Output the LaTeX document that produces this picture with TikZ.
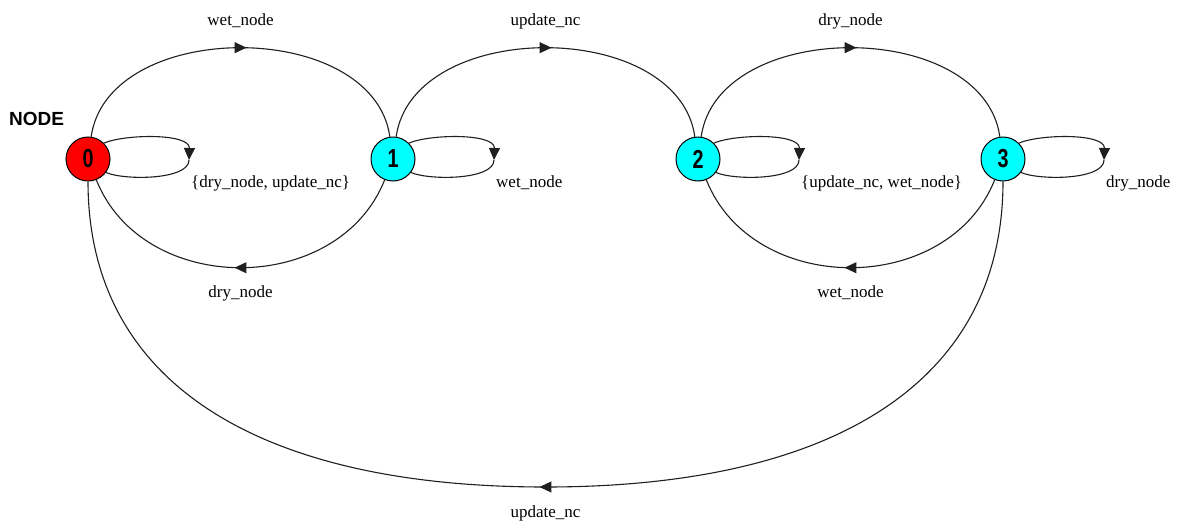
\documentclass[tikz,border=0pt]{standalone}
\usepackage{fontspec}
\usepackage{graphicx}
\setmainfont{Liberation Serif}
\newfontfamily\headfont{Liberation Sans}
\usetikzlibrary{arrows.meta,decorations.markings,calc}
\definecolor{startred}{RGB}{255,0,0}
\definecolor{stateaqua}{RGB}{0,255,255}

\begin{document}
\begin{tikzpicture}[x=1pt,y=-1pt,
  stnode/.style={circle,draw=black,line width=1pt,minimum size=44pt,inner sep=0pt,
    font=\headfont\bfseries\fontsize{26}{26}\selectfont},
  conn/.style={draw=black!88,line width=1.1pt},
  midarrow/.style={postaction={decorate},decoration={markings,
    mark=at position 0.5 with {\arrow[xshift=6pt]{Triangle[length=12pt,width=11pt]}}}},
  looptip/.style={-{Triangle[length=12pt,width=11pt]}},
  lbl/.style={font=\fontsize{17}{17}\selectfont,inner sep=0pt,anchor=base},
  looplbl/.style={lbl,anchor=base west}]

\useasboundingbox (0,0) rectangle (1179,525);

% title
\node[font=\headfont\bfseries\fontsize{19}{19}\selectfont,inner sep=0pt,anchor=base west] (title) at (9,125) {NODE};

% states
\node[stnode,fill=startred]  (n0) at (88,159)  {\scalebox{0.76}[1]{0}};
\node[stnode,fill=stateaqua] (n1) at (393,159) {\scalebox{0.76}[1]{1}};
\node[stnode,fill=stateaqua] (n2) at (698,159) {\scalebox{0.76}[1]{2}};
\node[stnode,fill=stateaqua] (n3) at (1003,159) {\scalebox{0.76}[1]{3}};

% forward arcs over the top
\draw[conn,midarrow] (n0) .. controls +(20,-141) and +(-20,-141) .. (n1);
\draw[conn,midarrow] (n1) .. controls +(20,-141) and +(-20,-141) .. (n2);
\draw[conn,midarrow] (n2) .. controls +(20,-141) and +(-20,-141) .. (n3);

% backward arcs underneath
\draw[conn,midarrow] (n1) .. controls +(-55,138) and +(55,138) .. (n0);
\draw[conn,midarrow] (n3) .. controls +(-55,138) and +(55,138) .. (n2);

% long return arc from 3 to 0
\coordinate (low) at ($(n0)!0.5!(n3)+(0,328)$);
\draw[conn,midarrow] (n3) .. controls +(0,222) and +(290,0) .. (low)
                          .. controls +(-290,0) and +(0,222) .. (n0);

% self loops
\foreach \n in {n0,n1,n2,n3}{
  \coordinate (\n t) at ($(\n)+(101,1)$);
  \draw[conn,looptip] (\n.45) .. controls +(21,-9) and +(1,-27) .. (\n t);
  \draw[conn] (\n t) .. controls +(0,20) and +(19,8) .. (\n.-37);
}

% arc labels
\node[lbl] (a01) at (240.5,25) {wet\_node};
\node[lbl] (a12) at (545.5,25) {update\_nc};
\node[lbl] (a23) at (850.5,25) {dry\_node};
\node[lbl] (a10) at (240.5,297) {dry\_node};
\node[lbl] (a32) at (850.5,297) {wet\_node};
\node[lbl] (a30) at (545.5,517) {update\_nc};

% loop labels
\node[looplbl] (s0) at (191,187) {\{dry\_node, update\_nc\}};
\node[looplbl] (s1) at (496,187) {wet\_node};
\node[looplbl] (s2) at (801,187) {\{update\_nc, wet\_node\}};
\node[looplbl] (s3) at (1106,187) {dry\_node};
\end{tikzpicture}
\end{document}
